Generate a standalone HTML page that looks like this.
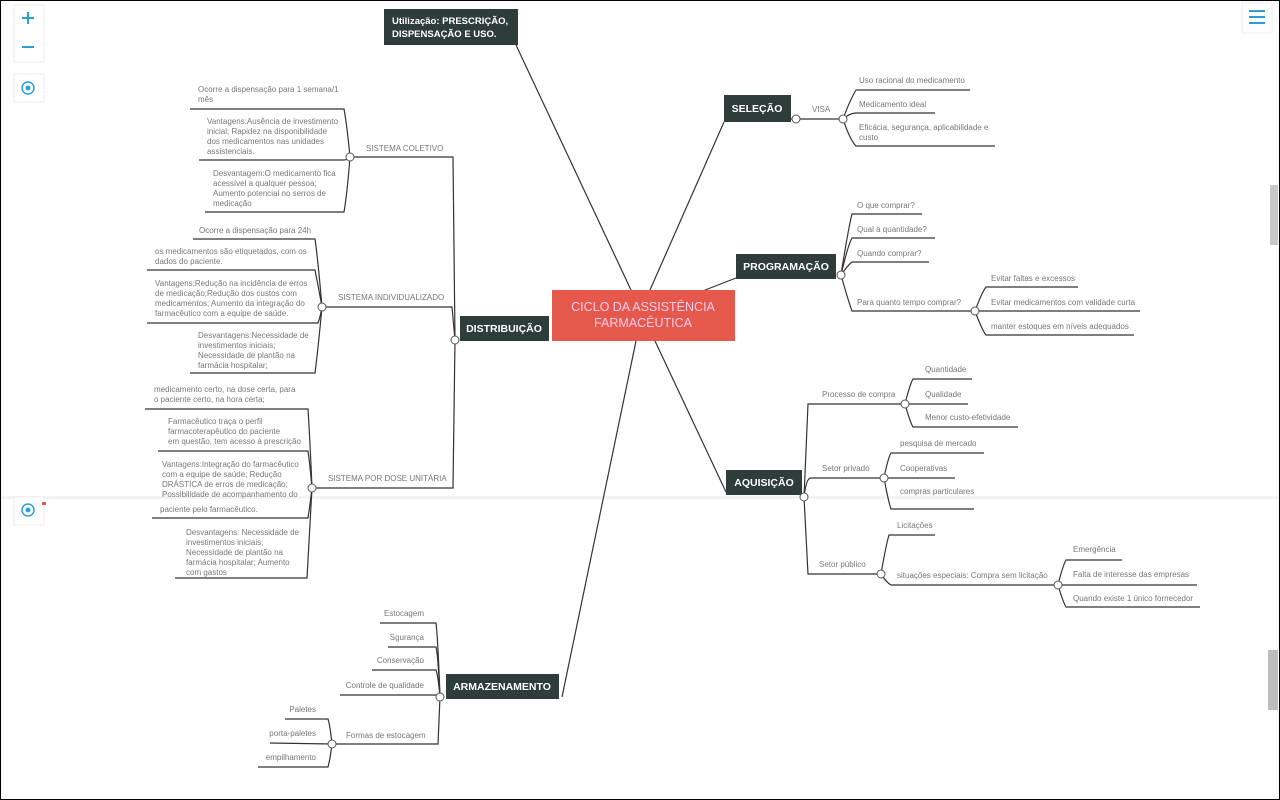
<!DOCTYPE html>
<html><head><meta charset="utf-8"><style>
html,body{margin:0;padding:0;background:#fff}
svg{display:block}
text{font-family:"Liberation Sans",sans-serif}
.t{font-size:8px;fill:#777}
.n{font-size:10.5px;font-weight:bold;fill:#fff}
</style></head><body>
<svg width="1280" height="800" viewBox="0 0 1280 800" xmlns="http://www.w3.org/2000/svg">
<rect x="0.5" y="0.5" width="1279" height="799" fill="#fff" stroke="#000"/>
<rect x="1" y="496" width="1278" height="3" fill="#f3f3f3"/>
<rect x="1270" y="185" width="8" height="60" fill="#c8c8c8"/>
<rect x="1268" y="650" width="10" height="60" fill="#bdbdbd"/>
<g stroke="#333" stroke-width="1.2" fill="none">
<path d="M631,290 L516,45"/>
<path d="M650,290 L724,122"/>
<path d="M700,292 L736,278"/>
<path d="M655,341 L726,492"/>
<path d="M636,341 L562,697"/>
<path d="M791,119 L843,119"/>
<path d="M843,119 Q850,100 856,90 L970,90"/>
<path d="M843,119 Q850,113 856,113 L935,113"/>
<path d="M843,119 Q850,140 856,146 L995,146"/>
<path d="M841,275 Q848,230 852,214 L922,214"/>
<path d="M841,275 Q848,245 852,238 L935,238"/>
<path d="M841,275 Q848,265 852,262 L929,262"/>
<path d="M841,275 Q848,300 852,311 L975,311"/>
<path d="M975,311 Q982,292 986,287 L1078,287"/>
<path d="M975,311 L1140,311"/>
<path d="M975,311 Q982,330 986,335 L1134,335"/>
<path d="M804,497 L808,404 L905,404"/>
<path d="M804,497 Q806,480 810,478 L884,478"/>
<path d="M804,497 L808,574 L881,574"/>
<path d="M905,404 Q910,384 913,379 L972,379"/>
<path d="M905,404 L968,404"/>
<path d="M905,404 Q910,422 913,427 L1018,427"/>
<path d="M884,478 Q888,458 891,453 L984,453"/>
<path d="M884,478 L955,478"/>
<path d="M884,478 Q888,500 891,509 L974,509"/>
<path d="M881,574 Q886,545 889,535 L935,535"/>
<path d="M881,574 Q886,582 891,585 L1058,585"/>
<path d="M1058,585 Q1063,565 1066,560 L1122,560"/>
<path d="M1058,585 L1197,585"/>
<path d="M1058,585 Q1063,602 1066,607 L1200,607"/>
<path d="M455,340 L453,157 L350,157"/>
<path d="M455,340 L452,307 L322,307"/>
<path d="M455,340 L453,488 L312,488"/>
<path d="M350,157 Q347,125 344,109 L190,109"/>
<path d="M350,157 Q347,160 344,160 L199,160"/>
<path d="M350,157 Q347,195 344,212 L205,212"/>
<path d="M322,307 Q318,260 315,239 L193,239"/>
<path d="M322,307 Q318,285 315,270 L147,270"/>
<path d="M322,307 Q320,318 318,323 L147,323"/>
<path d="M322,307 Q318,350 315,373 L190,373"/>
<path d="M312,488 Q310,440 308,409 L145,409"/>
<path d="M312,488 Q310,465 308,451 L158,451"/>
<path d="M312,488 Q310,505 308,518 L152,518"/>
<path d="M312,488 Q309,540 307,578 L175,578"/>
<path d="M440,697 Q438,640 436,623 L380,623"/>
<path d="M440,697 Q438,655 436,647 L388,647"/>
<path d="M440,697 Q438,675 436,670 L372,670"/>
<path d="M440,697 L436,695 L340,695"/>
<path d="M440,697 L438,744 L332,744"/>
<path d="M332,744 Q330,725 328,719 L285,719"/>
<path d="M332,744 L270,743"/>
<path d="M332,744 Q330,760 328,767 L258,767"/>
</g>
<rect x="552" y="290" width="183" height="51" fill="#e5584c"/>
<text x="643" y="311" text-anchor="middle" font-size="12.5" fill="#fce">CICLO DA ASSISTÊNCIA</text>
<text x="643" y="327" text-anchor="middle" font-size="12.5" fill="#fce">FARMACÊUTICA</text>
<rect x="384" y="9" width="134" height="36" fill="#2e3d3a"/>
<text class="n" x="392" y="24" style="font-size:9.5px">Utilização: PRESCRIÇÃO,</text>
<text class="n" x="392" y="37" style="font-size:9.5px">DISPENSAÇÃO E USO.</text>
<rect x="724" y="95" width="67" height="27" fill="#2e3d3a"/>
<text class="n" x="757" y="112" text-anchor="middle">SELEÇÃO</text>
<rect x="736" y="254" width="100" height="25" fill="#2e3d3a"/>
<text class="n" x="786" y="270" text-anchor="middle">PROGRAMAÇÃO</text>
<rect x="726" y="470" width="76" height="25" fill="#2e3d3a"/>
<text class="n" x="764" y="486" text-anchor="middle">AQUISIÇÃO</text>
<rect x="460" y="316" width="89" height="25" fill="#2e3d3a"/>
<text class="n" x="504" y="332" text-anchor="middle">DISTRIBUIÇÃO</text>
<rect x="446" y="674" width="113" height="25" fill="#2e3d3a"/>
<text class="n" x="502" y="690" text-anchor="middle">ARMAZENAMENTO</text>
<g fill="#fff" stroke="#555" stroke-width="1">
<circle cx="796" cy="119" r="4"/><circle cx="843" cy="119" r="4"/>
<circle cx="841" cy="275" r="4"/><circle cx="975" cy="311" r="4"/>
<circle cx="804" cy="497" r="4"/><circle cx="905" cy="404" r="4"/><circle cx="884" cy="478" r="4"/><circle cx="881" cy="574" r="4"/><circle cx="1058" cy="585" r="4"/>
<circle cx="455" cy="340" r="4"/><circle cx="350" cy="157" r="4"/><circle cx="322" cy="307" r="4"/><circle cx="312" cy="488" r="4"/>
<circle cx="440" cy="697" r="4"/><circle cx="332" cy="744" r="4"/>
</g>
<g class="t">
<text x="812" y="112">VISA</text>
<text x="859" y="83">Uso racional do medicamento</text>
<text x="859" y="107">Medicamento ideal</text>
<text x="859" y="130">Eficácia, segurança, aplicabilidade e</text>
<text x="859" y="140">custo</text>
<text x="857" y="208">O que comprar?</text>
<text x="857" y="232">Qual a quantidade?</text>
<text x="857" y="256">Quando comprar?</text>
<text x="857" y="305">Para quanto tempo comprar?</text>
<text x="991" y="281">Evitar faltas e excessos</text>
<text x="991" y="305">Evitar medicamentos com validade curta</text>
<text x="991" y="329">manter estoques em níveis adequados</text>
<text x="822" y="397">Processo de compra</text>
<text x="925" y="372">Quantidade</text>
<text x="925" y="397">Qualidade</text>
<text x="925" y="420">Menor custo-efetividade</text>
<text x="822" y="471">Setor privado</text>
<text x="900" y="446">pesquisa de mercado</text>
<text x="900" y="471">Cooperativas</text>
<text x="900" y="494">compras particulares</text>
<text x="819" y="567">Setor público</text>
<text x="897" y="528">Licitações</text>
<text x="897" y="578">situações especiais: Compra sem licitação</text>
<text x="1073" y="552">Emergência</text>
<text x="1073" y="577">Falta de interesse das empresas</text>
<text x="1073" y="601">Quando existe 1 único fornecedor</text>
</g>
<g class="t">
<text x="366" y="151">SISTEMA COLETIVO</text>
<text x="338" y="300">SISTEMA INDIVIDUALIZADO</text>
<text x="328" y="481">SISTEMA POR DOSE UNITÁRIA</text>
<text x="198" y="92">Ocorre a dispensação para 1 semana/1</text>
<text x="198" y="102">mês</text>
<text x="207" y="124">Vantagens:Ausência de investimento</text>
<text x="207" y="134">inicial; Rapidez na disponibilidade</text>
<text x="207" y="144">dos medicamentos nas unidades</text>
<text x="207" y="154">assistenciais.</text>
<text x="213" y="176">Desvantagem:O medicamento fica</text>
<text x="213" y="186">acessível a qualquer pessoa;</text>
<text x="213" y="196">Aumento potencial no serros de</text>
<text x="213" y="206">medicação</text>
<text x="199" y="233">Ocorre a dispensação para 24h</text>
<text x="155" y="254">os medicamentos são etiquetados, com os</text>
<text x="155" y="264">dados do paciente.</text>
<text x="155" y="286">Vantagens:Redução na incidência de erros</text>
<text x="155" y="296">de medicação;Redução dos custos com</text>
<text x="155" y="306">medicamentos; Aumento da integração do</text>
<text x="155" y="316">farmacêutico com a equipe de saúde.</text>
<text x="198" y="338">Desvantagens:Necessidade de</text>
<text x="198" y="348">investimentos iniciais;</text>
<text x="198" y="358">Necessidade de plantão na</text>
<text x="198" y="368">farmácia hospitalar;</text>
<text x="154" y="392">medicamento certo, na dose certa, para</text>
<text x="154" y="402">o paciente certo, na hora certa;</text>
<text x="168" y="424">Farmacêutico traça o perfil</text>
<text x="168" y="434">farmacoterapêutico do paciente</text>
<text x="168" y="444">em questão, tem acesso à prescrição</text>
<text x="162" y="467">Vantagens:Integração do farmacêutico</text>
<text x="162" y="477">com a equipe de saúde; Redução</text>
<text x="162" y="487">DRÁSTICA de erros de medicação;</text>
<text x="162" y="497">Possibilidade de acompanhamento do</text>
<text x="160" y="512">paciente pelo farmacêutico.</text>
<text x="186" y="535">Desvantagens: Necessidade de</text>
<text x="186" y="545">investimentos iniciais;</text>
<text x="186" y="555">Necessidade de plantão na</text>
<text x="186" y="565">farmácia hospitalar; Aumento</text>
<text x="186" y="575">com gastos</text>
<text x="424" y="616" text-anchor="end">Estocagem</text>
<text x="424" y="640" text-anchor="end">Sgurança</text>
<text x="424" y="663" text-anchor="end">Conservação</text>
<text x="424" y="688" text-anchor="end">Controle de qualidade</text>
<text x="346" y="738">Formas de estocagem</text>
<text x="316" y="712" text-anchor="end">Paletes</text>
<text x="316" y="736" text-anchor="end">porta-paletes</text>
<text x="316" y="760" text-anchor="end">empilhamento</text>
</g>
<rect x="14" y="5" width="30" height="57" fill="#fff" stroke="#eee"/>
<path d="M22,18 H34 M28,12 V24" stroke="#2a9fd6" stroke-width="2"/>
<path d="M22,47 H34" stroke="#2a9fd6" stroke-width="2"/>
<rect x="14" y="74" width="30" height="28" fill="#fff" stroke="#eee"/>
<circle cx="28" cy="88" r="6" fill="none" stroke="#2a9fd6" stroke-width="1.5"/><circle cx="28" cy="88" r="2.5" fill="#2a9fd6"/>
<rect x="14" y="497" width="30" height="28" fill="#fff" stroke="#eee"/>
<circle cx="28" cy="510" r="6" fill="none" stroke="#2a9fd6" stroke-width="1.5"/><circle cx="28" cy="510" r="2.5" fill="#2a9fd6"/>
<rect x="42" y="502" width="4" height="3" fill="#e55"/>
<rect x="1242" y="3" width="30" height="30" fill="#fff" stroke="#eee"/>
<path d="M1249,11 H1265 M1249,17 H1265 M1249,23 H1265" stroke="#2a9fd6" stroke-width="2"/>
</svg>
</body></html>
